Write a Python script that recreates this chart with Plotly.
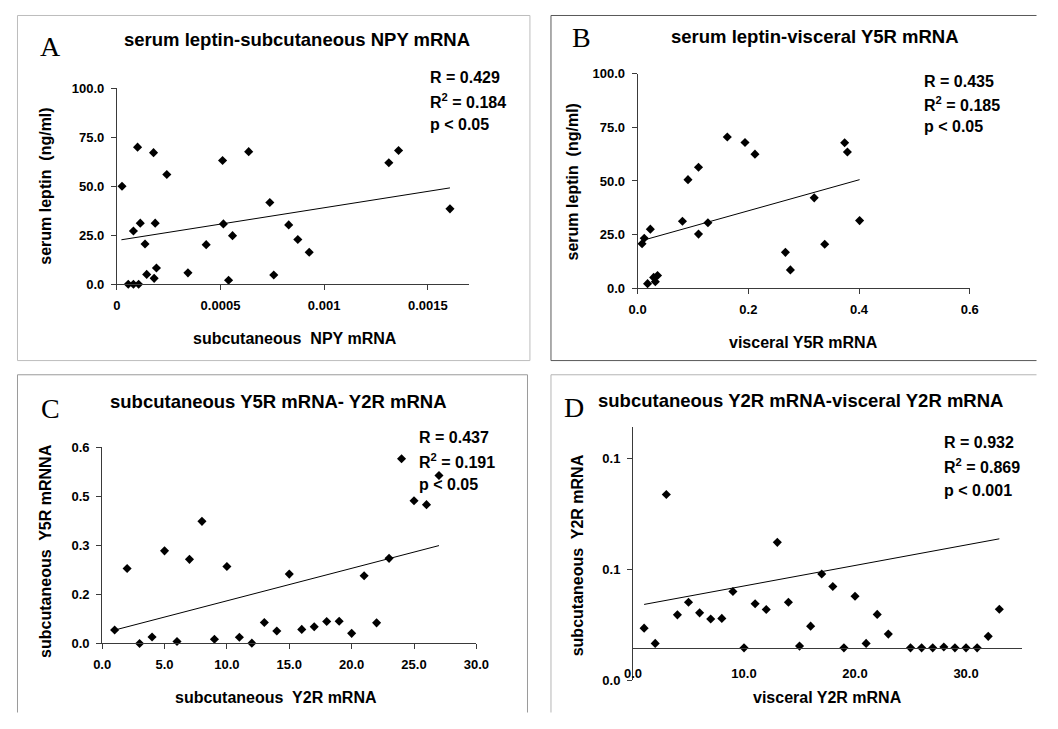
import plotly.graph_objects as go

W, H = 1058, 729                  # browser window
OX, OY = 8, 8                     # default page (body) margin of the browser
FW, FH = W - 2 * OX, H - 2 * OY   # figure size so the page fits the window exactly

# ---------------- data ----------------
# Panel A: serum leptin vs subcutaneous NPY mRNA
a_x = [0.000025, 0.000055, 0.00008, 0.000105, 0.00008, 0.0001, 0.000113, 0.000136,
       0.000144, 0.00018, 0.000177, 0.000185, 0.000191, 0.000241, 0.000343, 0.000431,
       0.00051, 0.000514, 0.000539, 0.000558, 0.000636, 0.000738, 0.000757, 0.000829,
       0.000873, 0.000928, 0.001312, 0.001359, 0.001607]
a_y = [50.0, 0.0, 0.0, 0.0, 27.2, 70.0, 31.2, 20.5, 5.0, 3.0, 67.2, 31.2, 8.3, 56.0,
       5.8, 20.2, 63.2, 30.8, 2.0, 24.8, 67.7, 41.7, 4.7, 30.3, 22.8, 16.3, 62.0, 68.3, 38.5]
a_trend_x = [0.000022, 0.001607]
a_trend_y = [22.7, 49.2]
a_xticks = [0, 0.0005, 0.001, 0.0015]
a_xlabels = ["0", "0.0005", "0.001", "0.0015"]
a_yticks = [0, 25, 50, 75, 100]
a_ylabels = ["0.0", "25.0", "50.0", "75.0", "100.0"]
a_stats = ["R = 0.429", "R<sup>2</sup> = 0.184", "p < 0.05"]

# Panel B: serum leptin vs visceral Y5R mRNA
b_x = [0.008, 0.012, 0.018, 0.023, 0.029, 0.032, 0.036, 0.081, 0.091, 0.110, 0.110,
       0.127, 0.162, 0.194, 0.212, 0.267, 0.276, 0.319, 0.338, 0.374, 0.379, 0.401]
b_y = [20.7, 23.3, 2.1, 27.5, 5.0, 3.0, 5.9, 31.2, 50.6, 56.4, 25.2, 30.5, 70.5, 67.9,
       62.5, 16.7, 8.5, 42.1, 20.5, 67.8, 63.5, 31.5]
b_trend_x = [0.008, 0.401]
b_trend_y = [22.2, 50.6]
b_xticks = [0, 0.2, 0.4, 0.6]
b_xlabels = ["0.0", "0.2", "0.4", "0.6"]
b_yticks = [0, 25, 50, 75, 100]
b_ylabels = ["0.0", "25.0", "50.0", "75.0", "100.0"]
b_stats = ["R = 0.435", "R<sup>2</sup> = 0.185", "p < 0.05"]

# Panel C: subcutaneous Y5R mRNA vs Y2R mRNA
c_x = list(range(1, 28))
c_y = [0.041, 0.229, 0.0, 0.020, 0.283, 0.006, 0.257, 0.373, 0.013, 0.235, 0.019, 0.001,
       0.064, 0.038, 0.212, 0.043, 0.051, 0.067, 0.068, 0.031, 0.207, 0.063, 0.260,
       0.564, 0.436, 0.424, 0.513]
c_trend_x = [1, 27]
c_trend_y = [0.041, 0.299]
c_xticks = [0, 5, 10, 15, 20, 25, 30]
c_xlabels = ["0.0", "5.0", "10.0", "15.0", "20.0", "25.0", "30.0"]
c_yticks = [0, 0.15, 0.3, 0.45, 0.6]
c_ylabels = ["0.0", "0.2", "0.3", "0.5", "0.6"]
c_stats = ["R = 0.437", "R<sup>2</sup> = 0.191", "p < 0.05"]

# Panel D: subcutaneous Y2R mRNA vs visceral Y2R mRNA
d_x = list(range(1, 24)) + list(range(25, 34))
d_y = [0.0235, 0.0166, 0.0838, 0.0295, 0.0352, 0.0304, 0.0276, 0.0279, 0.0400, 0.0146,
       0.0345, 0.0319, 0.0622, 0.0352, 0.0154, 0.0244, 0.0479, 0.0423, 0.0146, 0.0379,
       0.0166, 0.0297, 0.0208, 0.0146, 0.0146, 0.0146, 0.0150, 0.0146, 0.0146, 0.0146,
       0.0198, 0.0320]
d_trend_x = [1, 33]
d_trend_y = [0.0342, 0.0638]
d_cross = 0.0146
d_xticks = [0, 10, 20, 30]
d_xlabels = ["0.0", "10.0", "20.0", "30.0"]
d_yticks = [0, 0.05, 0.1]
d_ylabels = ["0.0", "0.1", "0.1"]
d_stats = ["R = 0.932", "R<sup>2</sup> = 0.869", "p < 0.001"]

# ---------------- helpers (window pixel -> paper fraction) ----------------
def px(x):
    return (x - OX) / FW

def py(y):
    return 1 - (y - OY) / FH

def clx(x):
    return min(max(x, OX + 0.5), W - OX - 0.5)

def cly(y):
    return min(max(y, OY + 0.5), H - OY - 0.5)

SANS = "Liberation Sans, Arial, sans-serif"
SERIF = "Liberation Serif, Times New Roman, serif"
AXC = "#3a3a3a"

fig = go.Figure()

panels = [
    dict(n="", x=a_x, y=a_y, tx=a_trend_x, ty=a_trend_y, xd=(110, 470), yd=(83, 283),
         xr=[0, 0.0017], yr=[0, 100], xt=(a_xticks, a_xlabels), yt=(a_yticks, a_ylabels)),
    dict(n="2", x=b_x, y=b_y, tx=b_trend_x, ty=b_trend_y, xd=(642, 981.3), yd=(68, 287),
         xr=[0, 0.6], yr=[0, 100], xt=(b_xticks, b_xlabels), yt=(b_yticks, b_ylabels)),
    dict(n="3", x=c_x, y=c_y, tx=c_trend_x, ty=c_trend_y, xd=(95, 477.3), yd=(449.3, 650),
         xr=[0, 30], yr=[0, 0.6], xt=(c_xticks, c_xlabels), yt=(c_yticks, c_ylabels)),
    dict(n="4", x=d_x, y=d_y, tx=d_trend_x, ty=d_trend_y, xd=(637.3, 1034.2), yd=(429, 687.5),
         xr=[0, 35], yr=[0, 0.1142], xt=(d_xticks, d_xlabels), yt=(d_yticks, d_ylabels)),
]

layout_axes = {}
for p in panels:
    n = p["n"]
    xa, ya = "x" + n, "y" + n
    fig.add_trace(go.Scatter(x=p["tx"], y=p["ty"], mode="lines",
                             line=dict(color="black", width=1),
                             xaxis=xa, yaxis=ya, showlegend=False, hoverinfo="skip"))
    fig.add_trace(go.Scatter(x=p["x"], y=p["y"], mode="markers",
                             marker=dict(symbol="diamond", size=7, color="black",
                                         line=dict(width=0)),
                             xaxis=xa, yaxis=ya, showlegend=False, cliponaxis=False))
    xdom = [px(p["xd"][0]), px(p["xd"][1])]
    ydom = [py(p["yd"][1]), py(p["yd"][0])]
    xax = dict(domain=xdom, range=p["xr"], anchor=ya, showgrid=False, zeroline=False,
               showline=True, linecolor=AXC, linewidth=1, ticks="outside", ticklen=5,
               tickcolor=AXC, tickvals=p["xt"][0], ticktext=p["xt"][1],
               tickfont=dict(family=SANS, size=13, color="black", weight="bold"),
               ticklabelstandoff=4)
    yax = dict(domain=ydom, range=p["yr"], anchor=xa, showgrid=False, zeroline=False,
               showline=True, linecolor=AXC, linewidth=1, ticks="outside", ticklen=5,
               tickcolor=AXC, tickvals=p["yt"][0], ticktext=p["yt"][1],
               tickfont=dict(family=SANS, size=13, color="black", weight="bold"),
               ticklabelstandoff=4)
    if n == "4":
        # x axis crosses the y axis at d_cross; tick labels sit below it
        pos = ydom[0] + (d_cross - p["yr"][0]) / (p["yr"][1] - p["yr"][0]) * (ydom[1] - ydom[0])
        xax.update(anchor="free", position=pos, ticks="", ticklabelstandoff=14)
    layout_axes["xaxis" + n] = xax
    layout_axes["yaxis" + n] = yax

fig.update_layout(**layout_axes)

ann = []

def text(x, y, s, size, xanchor="center", angle=0, family=SANS, bold=True):
    ann.append(dict(x=px(x), y=py(y), xref="paper", yref="paper", text=s,
                    showarrow=False, xanchor=xanchor, yanchor="middle", textangle=angle,
                    font=dict(family=family, size=size, color="black",
                              weight="bold" if bold else "normal")))

# titles
text(294, 33, "serum leptin-subcutaneous NPY mRNA", 18.5)
text(823, 30, "serum leptin-visceral Y5R mRNA", 18.5)
text(275, 403, "subcutaneous Y5R mRNA- Y2R mRNA", 18.5)
text(808, 402, "subcutaneous Y2R mRNA-visceral Y2R mRNA", 18.5)

# panel letters
text(42, 40, "A", 28, family=SERIF, bold=False)
text(585, 31, "B", 28, family=SERIF, bold=False)
text(42, 410, "C", 28, family=SERIF, bold=False)
text(577, 409, "D", 28, family=SERIF, bold=False)

# axis titles
text(292, 338, "subcutaneous  NPY mRNA", 16)
text(37, 183, "serum leptin  (ng/ml)", 16, angle=-90)
text(811, 343, "visceral Y5R mRNA", 16)
text(575, 179, "serum leptin  (ng/ml)", 16, angle=-90)
text(273, 705, "subcutaneous  Y2R mRNA", 16)
text(37, 555, "subcutaneous  Y5R mRNNA", 16, angle=-90)
text(836, 705, "visceral Y2R mRNA", 16)
text(580, 560, "subcutaneous  Y2R mRNA", 16, angle=-90)

# statistics
for (x0, ys, st) in [(428, (72, 96, 120), a_stats), (933, (76, 99, 122), b_stats),
                     (417, (440, 464, 488), c_stats), (953, (445, 469, 494), d_stats)]:
    for yy, s in zip(ys, st):
        text(x0, yy, s, 16, xanchor="left")

# panel frames, drawn as separate sides and kept inside the figure
def seg(x0, y0, x1, y1, color):
    return dict(type="line", xref="paper", yref="paper",
                x0=px(clx(x0)), y0=py(cly(y0)), x1=px(clx(x1)), y1=py(cly(y1)),
                line=dict(color=color, width=1))

GA, GB, GC, GD = "#bdbdbd", "#595959", "#9a9a9a", "#b5b5b5"
shapes = [
    # A: full box
    seg(7.5, 7.5, 532, 7.5, GA), seg(7.5, 361, 532, 361, GA),
    seg(7.5, 7.5, 7.5, 361, GA), seg(532, 7.5, 532, 361, GA),
    # B: top, left, bottom (its right side lies beyond the window)
    seg(553.5, 5.5, W, 5.5, GB), seg(553.5, 361, W, 361, GB), seg(553.5, 5.5, 553.5, 361, GB),
    # C: top, left, right
    seg(7.5, 375.5, 529.5, 375.5, GC), seg(7.5, 375.5, 7.5, H, GC), seg(529.5, 375.5, 529.5, H, GC),
    # D: top, left
    seg(553.5, 375.5, W, 375.5, GD), seg(553.5, 375.5, 553.5, H, GD),
]

fig.update_layout(width=FW, height=FH, autosize=False,
                  margin=dict(l=0, r=0, t=0, b=0),
                  paper_bgcolor="white", plot_bgcolor="white",
                  annotations=ann, shapes=shapes, showlegend=False)

fig.write_html("out.html", config={"displayModeBar": False})
